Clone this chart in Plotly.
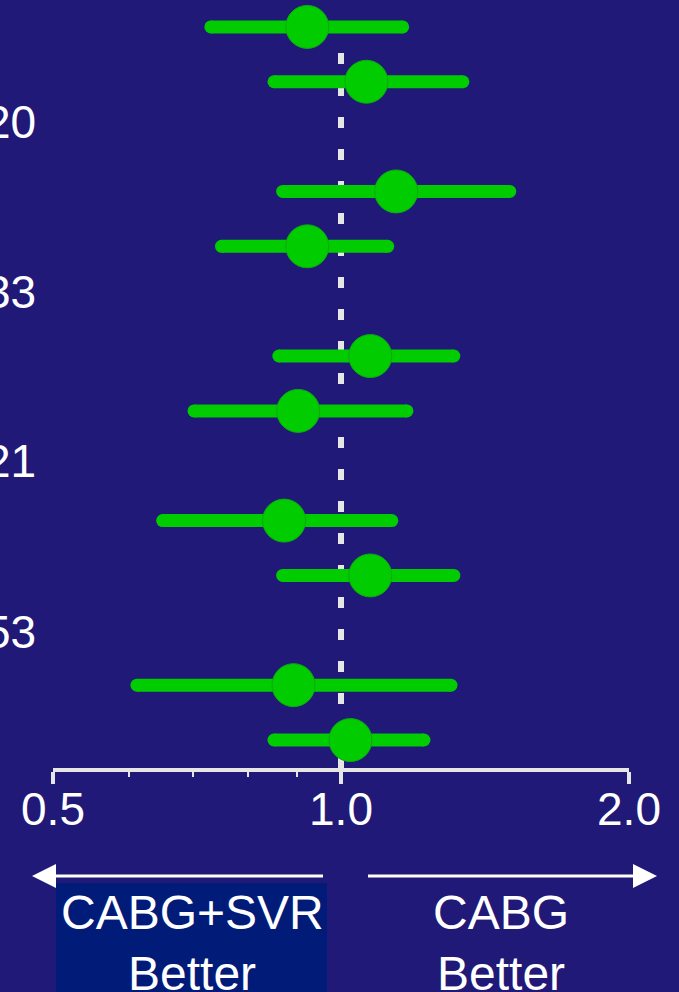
import math
import plotly.graph_objects as go

# ---- data ----
rows = [0, 1, 3, 4, 6, 7, 9, 10, 12, 13]
est = [0.922, 1.063, 1.142, 0.922, 1.073, 0.902, 0.872, 1.073, 0.892, 1.023]
lo = [0.731, 0.851, 0.869, 0.750, 0.861, 0.702, 0.651, 0.869, 0.612, 0.851]
hi = [1.160, 1.341, 1.501, 1.119, 1.312, 1.172, 1.130, 1.312, 1.303, 1.221]
p_labels = ["20", "33", "21", "53"]
tick_vals = [0.5, 1.0, 2.0]
tick_text = ["0.5", "1.0", "2.0"]
minor_vals = [0.6, 0.7, 0.8, 0.9]
ref_value = 1.0
left_label = "CABG+SVR"
right_label = "CABG"
better = "Better"

BG = "#201977"
GREEN = "#00cc00"
AXC = "#e6e6e6"
FONT = "Liberation Sans, Arial, sans-serif"

W, H = 679, 992
ML, MR, MT, MB = 53, 50, 0, 224
PW, PH = W - ML - MR, H - MT - MB


def px(x):
    return (x - ML) / PW


def py(y):
    return (PH + MT - y) / PH


fig = go.Figure()

# reference dashed line at 1.0
fig.add_trace(go.Scatter(
    x=[ref_value, ref_value], y=[0.474, 13.51], mode="lines",
    line=dict(color=AXC, width=6, dash="11px,21px"),
    hoverinfo="skip", showlegend=False, cliponaxis=False))

# CI lines
cx, cy = [], []
for r, a, b in zip(rows, lo, hi):
    cx += [a, b, None]
    cy += [r, r, None]
fig.add_trace(go.Scatter(
    x=cx, y=cy, mode="lines", line=dict(color=GREEN, width=13),
    hoverinfo="skip", showlegend=False, cliponaxis=False))
# round caps
fig.add_trace(go.Scatter(
    x=lo + hi, y=rows + rows, mode="markers",
    marker=dict(color=GREEN, size=13, line=dict(width=0)),
    hoverinfo="skip", showlegend=False, cliponaxis=False))
# point estimates
fig.add_trace(go.Scatter(
    x=est, y=rows, mode="markers",
    marker=dict(color=GREEN, size=43, line=dict(width=1, color="#10a810")),
    showlegend=False, cliponaxis=False))

shapes = [
    # box behind left label
    dict(type="rect", xref="paper", yref="paper",
         x0=px(56), x1=px(327), y0=py(883), y1=py(1000),
         fillcolor="#001b78", line=dict(width=0), layer="below"),
    # left arrow
    dict(type="line", xref="paper", yref="paper",
         x0=px(50), x1=px(323), y0=py(876), y1=py(876),
         line=dict(color="white", width=3)),
    dict(type="path", xref="paper", yref="paper",
         path=f"M {px(32)} {py(876)} L {px(56)} {py(864)} L {px(56)} {py(888)} Z",
         fillcolor="white", line=dict(width=0)),
    # right arrow
    dict(type="line", xref="paper", yref="paper",
         x0=px(368), x1=px(640), y0=py(876), y1=py(876),
         line=dict(color="white", width=3)),
    dict(type="path", xref="paper", yref="paper",
         path=f"M {px(657)} {py(876)} L {px(633)} {py(864)} L {px(633)} {py(888)} Z",
         fillcolor="white", line=dict(width=0)),
]

annotations = []
for txt, yy in zip(p_labels, [122, 292, 461, 632]):
    annotations.append(dict(text=txt, xref="paper", yref="paper", x=px(38), y=py(yy),
                            xanchor="right", yanchor="middle", showarrow=False,
                            font=dict(family=FONT, size=46, color="white")))
for txt, xx, yy in [(left_label, 192, 912), (better, 192, 973),
                    (right_label, 501, 912), (better, 501, 973)]:
    annotations.append(dict(text=txt, xref="paper", yref="paper", x=px(xx), y=py(yy),
                            xanchor="center", yanchor="middle", showarrow=False,
                            font=dict(family=FONT, size=48, color="white")))

fig.update_layout(
    width=W, height=H, autosize=False,
    margin=dict(l=ML, r=MR, t=MT, b=MB, pad=0),
    paper_bgcolor=BG, plot_bgcolor=BG,
    shapes=shapes, annotations=annotations,
    xaxis=dict(type="log", range=[math.log10(0.5), math.log10(2.0)],
               tickmode="array", tickvals=tick_vals, ticktext=tick_text,
               ticks="outside", ticklen=12, tickwidth=4, tickcolor=AXC,
               showline=True, linecolor=AXC, linewidth=4,
               showgrid=False, zeroline=False, ticklabelstandoff=-14,
               tickfont=dict(family=FONT, size=46, color="white"),
               minor=dict(tickmode="array", tickvals=minor_vals, ticks="outside",
                          ticklen=5, tickwidth=2, tickcolor=AXC, showgrid=False)),
    yaxis=dict(range=[13.51, -0.49], visible=False, showgrid=False, zeroline=False),
    showlegend=False,
)

fig.write_html(
    "out.html",
    config={"displayModeBar": False},
    post_script="document.body.style.margin='0';document.body.style.overflow='hidden';"
                "document.body.style.background='" + BG + "';",
)
